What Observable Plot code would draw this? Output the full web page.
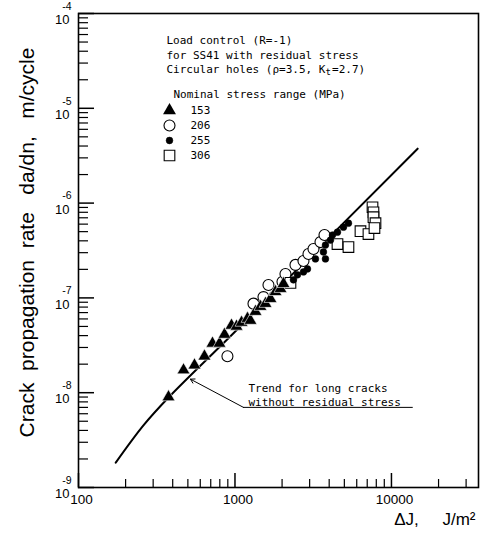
<!DOCTYPE html>
<html><head><meta charset="utf-8">
<script src="https://cdn.jsdelivr.net/npm/d3@7"></script>
<script src="https://cdn.jsdelivr.net/npm/@observablehq/plot@0.6"></script>
<style>body{margin:0;background:#fff} #chart svg{display:block}</style>
</head><body><div id="chart"></div>
<script>
// ---- data (ΔJ in J/m², da/dn in m/cycle) ----
const s153_dJ   = [376, 469, 551, 638, 718, 796, 857, 950, 1023, 1101, 1202, 1256, 1352, 1455, 1567, 1686, 1815, 1954, 2042];
const s153_rate = [9.0e-9, 1.73e-8, 1.95e-8, 2.42e-8, 3.31e-8, 3.31e-8, 4.11e-8, 5.12e-8, 5.0e-8, 5.5e-8, 6.05e-8, 5.77e-8, 7.17e-8, 8.09e-8, 8.7e-8, 9.8e-8, 1.16e-7, 1.25e-7, 1.41e-7];
const s206_dJ   = [895, 1313, 1521, 1637, 2012, 2102, 2436, 2740, 2950, 3175, 3519, 3733];
const s206_rate = [2.42e-8, 8.7e-8, 1.02e-7, 1.37e-7, 1.48e-7, 1.79e-7, 2.23e-7, 2.45e-7, 2.9e-7, 3.28e-7, 3.88e-7, 4.6e-7];
const s255_dJ   = [2364, 2508, 2740, 2906, 3268, 3786, 3676, 3786, 4077, 4198, 4519, 4934, 5312];
const s255_rate = [1.55e-7, 1.75e-7, 1.88e-7, 2.02e-7, 2.58e-7, 2.58e-7, 3.05e-7, 3.61e-7, 4.07e-7, 4.6e-7, 4.94e-7, 5.57e-7, 6.14e-7];
const s306_dJ   = [2263, 4519, 5312, 6339, 7129, 7567, 7674, 7674, 7907, 7787];
const s306_rate = [1.44e-7, 3.7e-7, 3.44e-7, 5.06e-7, 4.71e-7, 9.04e-7, 8.0e-7, 7.1e-7, 6.14e-7, 5.45e-7];
const trend_dJ   = [173, 260, 376, 1000, 14700];
const trend_rate = [1.83e-9, 4.52e-9, 8.9e-9, 4.4e-8, 3.75e-6];

const seriesNames = ["153", "206", "255", "306"];
const legendLines = ["Load control (R=-1)", "for SS41 with residual stress", "Circular holes (\u03c1=3.5, K"];
const legendSub = "t";
const legendTail = "=2.7)";
const legendHeader = "Nominal stress range (MPa)";
const trendNote = ["Trend for long cracks", "without residual stress"];
const trendNoteAt = {dJ: 1220, rate: 9.6e-9};
const leaderPath = [{dJ: 13600, rate: 7.0e-9}, {dJ: 1133, rate: 7.0e-9}];
const leaderHead = {x1: 1133, y1: 7.0e-9, x2: 519, y2: 1.39e-8};

const xMajor = [100, 1000, 10000];
const xMajorLabels = ["100", "1000", "10000"];
const xMinor = [200,300,400,500,600,700,800,900,2000,3000,4000,5000,6000,7000,8000,9000,20000,30000];
const yMajor = [1e-9, 1e-8, 1e-7, 1e-6, 1e-5, 1e-4];
const yExp = ["-9", "-8", "-7", "-6", "-5", "-4"];
const yMinor = [];
for (const d of [1e-9, 1e-8, 1e-7, 1e-6, 1e-5]) for (const m of [2,3,4,5,6,7,8,9]) yMinor.push(d * m);

const yTitle = "Crack\u00a0\u00a0propagation\u00a0\u00a0rate\u00a0\u00a0\u00a0da/dn,\u00a0\u00a0\u00a0m/cycle";
const xTitle = "\u0394J,\u00a0\u00a0\u00a0\u00a0\u00a0J/m\u00b2";

// ---- build tables ----
const zip = (xs, ys) => xs.map((x, i) => ({dJ: x, rate: ys[i]}));
const d153 = zip(s153_dJ, s153_rate), d206 = zip(s206_dJ, s206_rate);
const d255 = zip(s255_dJ, s255_rate), d306 = zip(s306_dJ, s306_rate);
const trend = zip(trend_dJ, trend_rate);

const W = 482, H = 536, ML = 78, MR = 4, MT = 13, MB = 49;
const PW = W - ML - MR, PH = H - MT - MB;
const mono = "DejaVu Sans Mono, monospace";
const sans = "Liberation Sans, Arial, Helvetica, sans-serif";
const monoSize = 11, charW = monoSize * 0.602;

const styles = [
  {symbol: "triangle", r: 4.8, fill: "black", stroke: "white", strokeWidth: 0.6},
  {symbol: "circle", r: 5.5, fill: "white", stroke: "black", strokeWidth: 1.1},
  {symbol: "circle", r: 3.4, fill: "black", stroke: "black", strokeWidth: 0.5},
  {symbol: "square", r: 6.0, fill: "white", stroke: "black", strokeWidth: 1.1}
];

const legX = 91, legY0 = 97, legStep = 15;
const legendMarks = seriesNames.flatMap((name, i) => [
  Plot.dot([name], {frameAnchor: "top-left", dx: legX, dy: legY0 + legStep * i, ...styles[i], stroke: i === 0 ? "black" : styles[i].stroke, strokeWidth: i === 0 ? 0 : styles[i].strokeWidth}),
  Plot.text([name], {text: d => d, frameAnchor: "top-left", dx: legX + 21, dy: legY0 + legStep * i, textAnchor: "start", lineAnchor: "middle", fontFamily: mono, fontSize: monoSize})
]);
const titleX = 88, titleY0 = 27, titleStep = 14.5;
const titleMarks = legendLines.map((line, i) =>
  Plot.text([line], {text: d => d, frameAnchor: "top-left", dx: titleX, dy: titleY0 + titleStep * i, textAnchor: "start", lineAnchor: "middle", fontFamily: mono, fontSize: monoSize})
);

const chart = Plot.plot({
  width: W, height: H,
  marginLeft: ML, marginRight: MR, marginTop: MT, marginBottom: MB,
  style: {fontFamily: sans, background: "white", color: "black"},
  x: {type: "log", domain: [100, 36000], axis: null},
  y: {type: "log", domain: [1e-9, 1e-4], axis: null},
  marks: [
    // ticks (inward)
    Plot.tickY(yMinor, {y: d => d, insetRight: PW - 10, stroke: "black", strokeWidth: 1.2}),
    Plot.tickY(yMajor, {y: d => d, insetRight: PW - 16, stroke: "black", strokeWidth: 1.5}),
    Plot.tickX(xMinor, {x: d => d, insetTop: PH - 8, stroke: "black", strokeWidth: 1.2}),
    Plot.tickX(xMajor, {x: d => d, insetTop: PH - 14, stroke: "black", strokeWidth: 1.5}),
    Plot.frame({stroke: "black", strokeWidth: 1.6}),
    // tick labels
    Plot.text(xMajor, {x: d => d, text: (d, i) => xMajorLabels[i], frameAnchor: "bottom", dy: 16, dx: 3, fontSize: 13.5}),
    Plot.text(yMajor, {y: d => d, text: () => "10", frameAnchor: "left", textAnchor: "end", dx: -9, dy: 6.5, fontSize: 13}),
    Plot.text(yMajor, {y: d => d, text: (d, i) => yExp[i], frameAnchor: "left", textAnchor: "end", dx: -7, dy: -7, fontSize: 10.5}),
    // axis titles
    Plot.text([yTitle], {text: d => d, frameAnchor: "left", textAnchor: "middle", rotate: -90, dx: -51, dy: -8, fontSize: 21, fontFamily: sans}),
    Plot.text([xTitle], {text: d => d, frameAnchor: "bottom-right", textAnchor: "end", dx: -3, dy: 37, fontSize: 17}),
    // trend line
    Plot.line(trend, {x: "dJ", y: "rate", curve: "catmull-rom", stroke: "black", strokeWidth: 2}),
    // data
    Plot.dot(d206, {x: "dJ", y: "rate", ...styles[1]}),
    Plot.dot(d306, {x: "dJ", y: "rate", ...styles[3]}),
    Plot.dot(d153, {x: "dJ", y: "rate", ...styles[0]}),
    Plot.dot(d255, {x: "dJ", y: "rate", ...styles[2]}),
    // annotation
    Plot.line(leaderPath, {x: "dJ", y: "rate", stroke: "black", strokeWidth: 1}),
    Plot.arrow([leaderHead], {x1: "x1", y1: "y1", x2: "x2", y2: "y2", headLength: 7, stroke: "black", strokeWidth: 1}),
    Plot.text([trendNote.join("\n")], {x: () => trendNoteAt.dJ, y: () => trendNoteAt.rate, text: d => d, textAnchor: "start", lineAnchor: "middle", lineHeight: 1.3, fontFamily: mono, fontSize: monoSize}),
    // legend block
    ...titleMarks,
    Plot.text([legendSub], {text: d => d, frameAnchor: "top-left", dx: titleX + charW * legendLines[2].length, dy: titleY0 + titleStep * 2 + 3, textAnchor: "start", lineAnchor: "middle", fontFamily: mono, fontSize: 9}),
    Plot.text([legendTail], {text: d => d, frameAnchor: "top-left", dx: titleX + charW * (legendLines[2].length + 1), dy: titleY0 + titleStep * 2, textAnchor: "start", lineAnchor: "middle", fontFamily: mono, fontSize: monoSize}),
    Plot.text([legendHeader], {text: d => d, frameAnchor: "top-left", dx: 95, dy: 81, textAnchor: "start", lineAnchor: "middle", fontFamily: mono, fontSize: monoSize}),
    ...legendMarks
  ]
});
document.getElementById("chart").appendChild(chart);
</script>
</body></html>
